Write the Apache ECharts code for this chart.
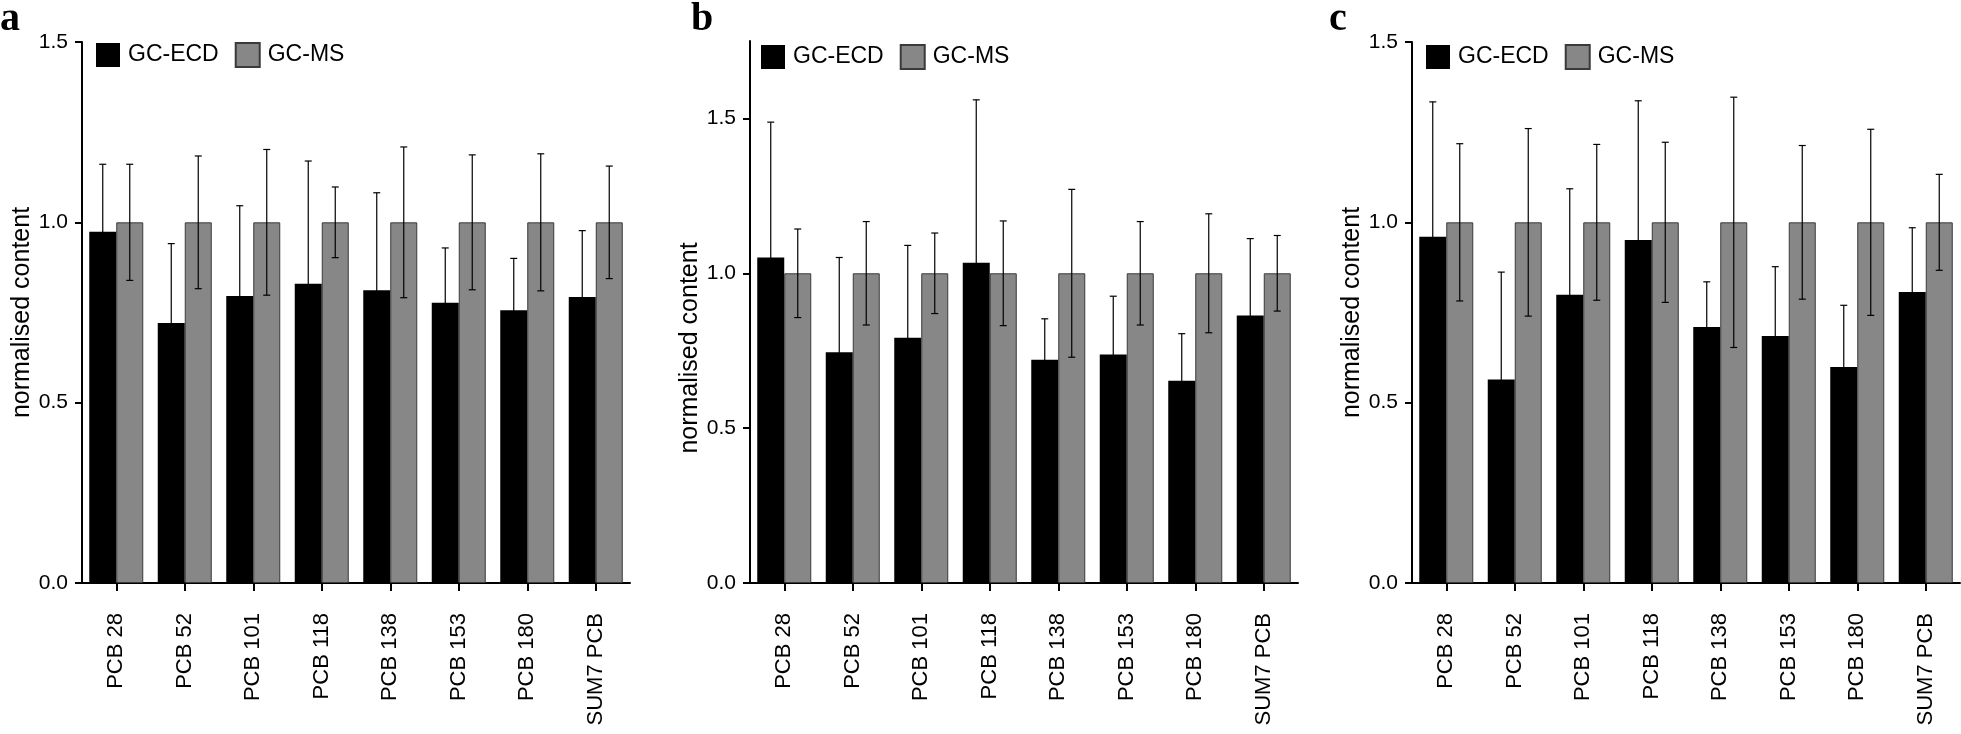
<!DOCTYPE html>
<html><head><meta charset="utf-8">
<script src="https://cdn.jsdelivr.net/npm/echarts@6/dist/echarts.min.js"></script>
<style>html,body{margin:0;padding:0;background:#fff}#c{width:1961px;height:734px}</style>
</head><body><div id="c"></div>
<script>
// ---- data ----
const categories = ['PCB 28', 'PCB 52', 'PCB 101', 'PCB 118', 'PCB 138', 'PCB 153', 'PCB 180', 'SUM7 PCB'];
const panelLetters = ['a', 'b', 'c'];
const seriesNames = ['GC-ECD', 'GC-MS'];
const yTitle = 'normalised content';
const yTickValues = [0, 0.5, 1.0, 1.5];
const yMaxes = [1.5, 1.75, 1.5];

const ecdA = [0.974, 0.721, 0.796, 0.830, 0.812, 0.777, 0.756, 0.793];
const ecdErrA = [0.187, 0.220, 0.250, 0.340, 0.270, 0.152, 0.144, 0.184];
const msA = [1, 1, 1, 1, 1, 1, 1, 1];
const msErrA = [0.161, 0.184, 0.202, 0.098, 0.209, 0.187, 0.190, 0.156];

const ecdB = [1.051, 0.745, 0.792, 1.034, 0.721, 0.738, 0.653, 0.864];
const ecdErrB = [0.437, 0.306, 0.298, 0.526, 0.132, 0.188, 0.152, 0.248];
const msB = [1, 1, 1, 1, 1, 1, 1, 1];
const msErrB = [0.143, 0.167, 0.130, 0.169, 0.271, 0.167, 0.192, 0.122];

const ecdC = [0.960, 0.564, 0.799, 0.951, 0.710, 0.685, 0.599, 0.807];
const ecdErrC = [0.374, 0.298, 0.294, 0.386, 0.125, 0.192, 0.171, 0.178];
const msC = [1, 1, 1, 1, 1, 1, 1, 1];
const msErrC = [0.218, 0.260, 0.216, 0.222, 0.347, 0.213, 0.258, 0.133];

const panels = [
  { ecd: ecdA, ecdErr: ecdErrA, ms: msA, msErr: msErrA },
  { ecd: ecdB, ecdErr: ecdErrB, ms: msB, msErr: msErrB },
  { ecd: ecdC, ecdErr: ecdErrC, ms: msC, msErr: msErrC }
];

// ---- layout / style ----
const FONT = '"Liberation Sans", Arial, sans-serif';
const gridLayouts = [
  { left: 82, top: 42, width: 548, height: 541 },
  { left: 750, top: 41, width: 548, height: 542 },
  { left: 1412, top: 42, width: 548, height: 541 }
];
const legendPos = [{ left: 96, top: 42 }, { left: 761, top: 44 }, { left: 1426, top: 44 }];
const letterPos = [{ left: 0, top: 0 }, { left: 691, top: 0 }, { left: 1329, top: 0 }];
const titlePadding = [[0, 0, 0, 0], [0, 72, 0, 0], [0, 0, 0, 0]];
const BAR_W = 27;
const GRAY = '#878787';

function errorSeries(i, vals, errs, side) {
  return {
    type: 'custom',
    xAxisIndex: i, yAxisIndex: i,
    silent: true, z: 10,
    data: vals.map((v, j) => [j, v, errs[j]]),
    renderItem: function (params, api) {
      const c = api.value(0), v = api.value(1), e = api.value(2);
      const top = api.coord([c, v + e]);
      const bot = api.coord([c, v - e]);
      const x = top[0] + side * BAR_W / 2;
      const cap = 3.5;
      const st = { stroke: '#000', lineWidth: 1.2 };
      return {
        type: 'group',
        children: [
          { type: 'line', shape: { x1: x, y1: top[1], x2: x, y2: bot[1] }, style: st },
          { type: 'line', shape: { x1: x - cap, y1: top[1], x2: x + cap, y2: top[1] }, style: st },
          { type: 'line', shape: { x1: x - cap, y1: bot[1], x2: x + cap, y2: bot[1] }, style: st }
        ]
      };
    }
  };
}

const option = {
  animation: false,
  backgroundColor: '#fff',
  title: panelLetters.map((t, i) => ({
    text: t, left: letterPos[i].left, top: letterPos[i].top, padding: 0,
    textStyle: { fontFamily: '"Liberation Serif", "Times New Roman", serif', fontWeight: 'bold', fontSize: 40, color: '#000' }
  })),
  legend: legendPos.map((p) => ({
    data: seriesNames, left: p.left, top: p.top, padding: 0,
    itemWidth: 24, itemHeight: 24, itemGap: 16, icon: 'rect', selectedMode: false,
    textStyle: { fontFamily: FONT, fontSize: 23, color: '#000', padding: [0, 0, 0, 3] }
  })),
  grid: gridLayouts.map((g) => Object.assign({ containLabel: false }, g)),
  xAxis: gridLayouts.map((g, i) => ({
    type: 'category', gridIndex: i, data: categories,
    axisLine: { show: true, lineStyle: { color: '#000', width: 2 } },
    axisTick: { show: true, alignWithLabel: true, length: 8, lineStyle: { color: '#000', width: 2 } },
    axisLabel: { rotate: 90, fontFamily: FONT, fontSize: 22, color: '#000', margin: 30 },
    splitLine: { show: false }
  })),
  yAxis: gridLayouts.map((g, i) => ({
    type: 'value', gridIndex: i, min: 0, max: yMaxes[i], interval: 0.5,
    name: yTitle, nameLocation: 'middle', nameGap: 44,
    nameTextStyle: { fontFamily: FONT, fontSize: 25, color: '#000', padding: titlePadding[i] },
    axisLine: { show: true, lineStyle: { color: '#000', width: 2 } },
    axisTick: { show: true, length: 7, customValues: yTickValues, lineStyle: { color: '#000', width: 2 } },
    axisLabel: { customValues: yTickValues, formatter: (v) => v.toFixed(1), fontFamily: FONT, fontSize: 21, color: '#000', margin: 14 },
    splitLine: { show: false }
  })),
  series: []
};

panels.forEach((p, i) => {
  option.series.push({
    name: seriesNames[0], type: 'bar', xAxisIndex: i, yAxisIndex: i,
    data: p.ecd, barWidth: BAR_W, barGap: '0%',
    itemStyle: { color: '#000' }
  });
  option.series.push({
    name: seriesNames[1], type: 'bar', xAxisIndex: i, yAxisIndex: i,
    data: p.ms, barWidth: BAR_W, barGap: '0%',
    itemStyle: { color: GRAY, borderColor: '#3a3a3a', borderWidth: 1 }
  });
  option.series.push(errorSeries(i, p.ecd, p.ecdErr, -1));
  option.series.push(errorSeries(i, p.ms, p.msErr, 1));
});

const chart = echarts.init(document.getElementById('c'), null, { renderer: 'canvas' });
chart.setOption(option);
</script>
</body></html>
